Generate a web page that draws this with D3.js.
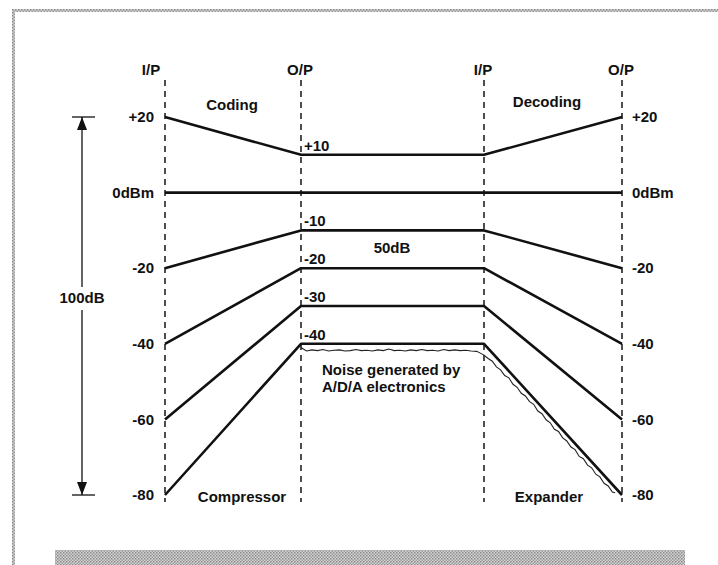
<!DOCTYPE html>
<meta charset='utf-8'>
<div class="chart"></div>
<script src="https://d3js.org/d3.v7.min.js"></script>
<style>
	body { margin: 0; background: #fff; }
	text { font-family: "Liberation Sans", Arial, Helvetica, sans-serif; font-weight: bold; font-size: 15px; fill: #111; }
	.level { fill: none; stroke: #111; stroke-width: 2.6px; stroke-linejoin: round; }
	.noise { fill: none; stroke: #222; stroke-width: 1.1px; }
	.stage { stroke: #222; stroke-width: 1.6px; stroke-dasharray: 6,5; }
</style>
<script>
	// stages along the signal path
	var stages = ["I/P", "O/P", "I/P", "O/P"];
	var stagePos = [0, 1, 2, 3];

	// input levels (dB) and the compressed level they map to
	var inputLevels = [20, 0, -20, -40, -60, -80];
	var compressedLevels = [10, 0, -10, -20, -30, -40];
	var edgeLabels = ["+20", "0dBm", "-20", "-40", "-60", "-80"];
	var midLabels = ["+10", "", "-10", "-20", "-30", "-40"];

	// noise of the A/D/A electronics: [stage position, dB]
	var noisePos = [1.00, 1.03, 1.06, 1.09, 1.12, 1.15, 1.18, 1.21, 1.24, 1.27, 1.30, 1.33, 1.36, 1.39, 1.42,
		1.45, 1.48, 1.51, 1.54, 1.57, 1.60, 1.63, 1.66, 1.69, 1.72, 1.75, 1.78, 1.81, 1.84, 1.87, 1.90, 1.93, 1.96, 1.985,
		2.00, 2.03, 2.06, 2.09, 2.12, 2.15, 2.18, 2.21, 2.24, 2.27, 2.30, 2.33, 2.36, 2.39, 2.42, 2.45, 2.48,
		2.51, 2.54, 2.57, 2.60, 2.63, 2.66, 2.69, 2.72, 2.75, 2.78, 2.81, 2.84, 2.87, 2.90, 2.93, 2.95];
	var noiseDb = [-41.0, -41.9, -41.6, -41.8, -41.5, -41.9, -41.7, -41.6, -41.9, -41.8, -41.5, -41.8, -41.7, -41.9, -41.6,
		-41.8, -41.4, -41.8, -41.7, -41.9, -41.6, -41.8, -41.5, -41.8, -41.7, -41.9, -41.5, -41.8, -41.6, -41.8, -41.7, -41.9, -42.0, -42.6,
		-43.0, -43.9, -44.6, -46.1, -46.9, -48.4, -49.0, -50.7, -51.5, -53.1, -53.8, -55.3, -56.0, -57.8, -58.5, -60.1, -60.9,
		-62.6, -63.2, -64.9, -65.7, -67.3, -68.0, -69.8, -70.4, -72.1, -72.8, -74.5, -75.2, -76.9, -77.6, -79.2, -79.4];

	var width = 718, height = 565;
	var svg = d3.select(".chart")
				.append("svg")
				.attr("width", width)
				.attr("height", height);

	var x = d3.scaleLinear().domain(stagePos).range([165, 301, 484, 622]);
	var y = d3.scaleLinear().domain([20, -80]).range([117, 495]);

	// textured frame (scanned look)
	var defs = svg.append("defs");
	var pat = defs.append("pattern").attr("id", "grain")
		.attr("width", 3).attr("height", 3).attr("patternUnits", "userSpaceOnUse");
	pat.append("rect").attr("width", 3).attr("height", 3).attr("fill", "#d4d4d4");
	pat.append("rect").attr("width", 1.5).attr("height", 1.5).attr("fill", "#8a8a8a");
	pat.append("rect").attr("x", 1.5).attr("y", 1.5).attr("width", 1.5).attr("height", 1.5).attr("fill", "#9a9a9a");

	svg.append("rect").attr("x", 12).attr("y", 9).attr("width", width - 12).attr("height", 3).attr("fill", "url(#grain)");
	svg.append("rect").attr("x", 12).attr("y", 9).attr("width", 3).attr("height", height - 9).attr("fill", "url(#grain)");
	svg.append("rect").attr("x", 55).attr("y", 550).attr("width", 630).attr("height", 15).attr("fill", "url(#grain)");

	// dashed stage lines + labels
	svg.append("g").selectAll("line")
		.data(stagePos)
		.enter().append("line")
		.attr("class", "stage")
		.attr("x1", function(d) { return x(d); })
		.attr("x2", function(d) { return x(d); })
		.attr("y1", 80)
		.attr("y2", 502);

	svg.append("g").selectAll("text")
		.data(stages)
		.enter().append("text")
		.attr("x", function(d, i) { return x(stagePos[i]) + (i == 0 ? -14 : -1); })
		.attr("y", 75)
		.attr("text-anchor", "middle")
		.text(function(d) { return d; });

	// level lines
	var line = d3.line()
		.x(function(d) { return x(d[0]); })
		.y(function(d) { return y(d[1]); });

	svg.append("g").selectAll("path")
		.data(inputLevels)
		.enter().append("path")
		.attr("class", "level")
		.attr("d", function(d, i) {
			var c = compressedLevels[i];
			return line([[0, d], [1, c], [2, c], [3, d]]);
		});

	// noise trace
	svg.append("path")
		.attr("class", "noise")
		.attr("d", line(noisePos.map(function(p, i) { return [p, noiseDb[i]]; })));

	// level labels
	svg.append("g").selectAll("text")
		.data(inputLevels)
		.enter().append("text")
		.attr("x", 154)
		.attr("y", function(d) { return y(d); })
		.attr("dy", "0.35em")
		.attr("text-anchor", "end")
		.text(function(d, i) { return edgeLabels[i]; });

	svg.append("g").selectAll("text")
		.data(inputLevels)
		.enter().append("text")
		.attr("x", 632)
		.attr("y", function(d) { return y(d); })
		.attr("dy", "0.35em")
		.text(function(d, i) { return edgeLabels[i]; });

	svg.append("g").selectAll("text")
		.data(compressedLevels)
		.enter().append("text")
		.attr("x", x(1) + 3)
		.attr("y", function(d) { return y(d) - 4; })
		.text(function(d, i) { return midLabels[i]; });

	// annotations
	var notes = [
		["Coding", 232, 110, "middle"],
		["Decoding", 547, 107, "middle"],
		["50dB", 392, 253, "middle"],
		["Noise generated by", 322, 375, "start"],
		["A/D/A electronics", 322, 392, "start"],
		["Compressor", 242, 502, "middle"],
		["Expander", 549, 502, "middle"],
		["100dB", 82, 303, "middle"]
	];
	svg.append("g").selectAll("text")
		.data(notes)
		.enter().append("text")
		.attr("x", function(d) { return d[1]; })
		.attr("y", function(d) { return d[2]; })
		.attr("text-anchor", function(d) { return d[3]; })
		.text(function(d) { return d[0]; });

	// 100dB span arrow
	var ax = 82, yTop = y(20), yBot = y(-80);
	var arrow = svg.append("g").attr("stroke", "#111").attr("fill", "#111");
	arrow.append("line").attr("x1", ax).attr("x2", ax).attr("y1", yTop).attr("y2", 287).attr("stroke-width", 1.3);
	arrow.append("line").attr("x1", ax).attr("x2", ax).attr("y1", 310).attr("y2", yBot).attr("stroke-width", 1.3);
	arrow.append("line").attr("x1", 72).attr("x2", 95).attr("y1", yTop).attr("y2", yTop).attr("stroke-width", 1.3);
	arrow.append("line").attr("x1", 72).attr("x2", 95).attr("y1", yBot).attr("y2", yBot).attr("stroke-width", 1.3);
	arrow.append("path").attr("stroke", "none")
		.attr("d", "M" + ax + "," + yTop + "L" + (ax - 5) + "," + (yTop + 13) + "L" + (ax + 5) + "," + (yTop + 13) + "Z");
	arrow.append("path").attr("stroke", "none")
		.attr("d", "M" + ax + "," + yBot + "L" + (ax - 5) + "," + (yBot - 13) + "L" + (ax + 5) + "," + (yBot - 13) + "Z");
</script>
